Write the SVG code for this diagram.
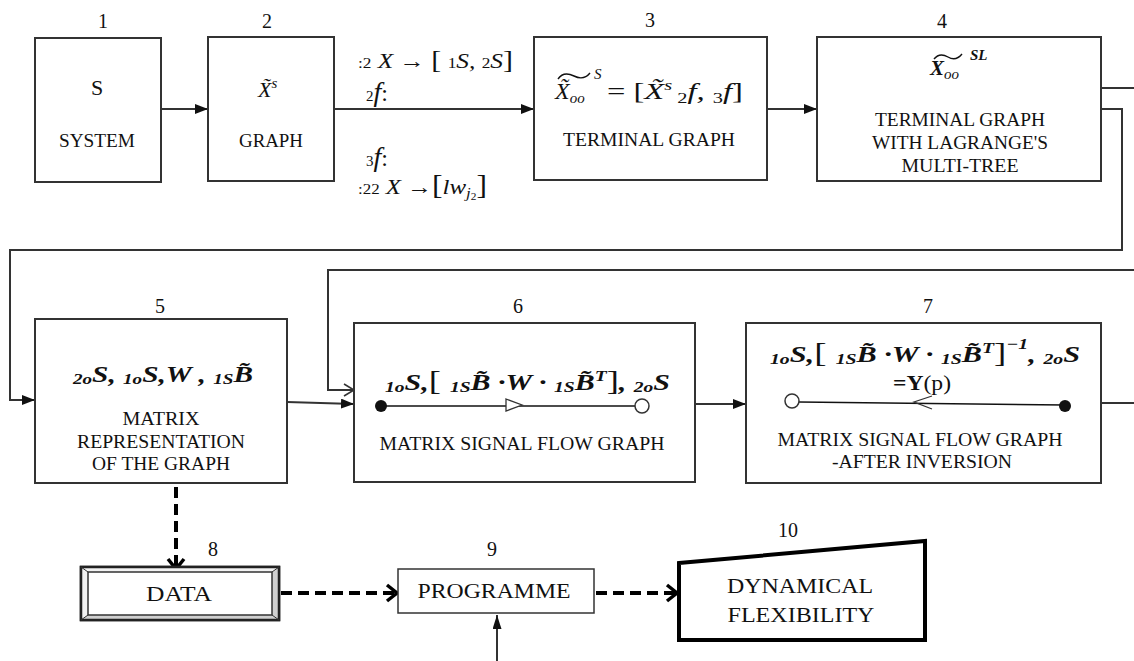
<svg xmlns="http://www.w3.org/2000/svg" width="1134" height="661" viewBox="0 0 1134 661">
<style>
.box{fill:#fff;stroke:#333;stroke-width:2}
.ln{fill:none;stroke:#333;stroke-width:2}
.acc{fill:none;stroke:#111;stroke-width:1.4}
.dash{fill:none;stroke:#000;stroke-width:4;stroke-dasharray:11 6}
.num{font-family:"Liberation Serif",serif;font-size:20px;text-anchor:middle;fill:#111}
.t{font-family:"Liberation Serif",serif;font-size:19px;text-anchor:middle;fill:#111}
.big{font-family:"Liberation Serif",serif;font-size:22px;text-anchor:middle;fill:#111}
.m{font-family:"Liberation Serif",serif;font-style:italic;fill:#111}
.mb{font-family:"Liberation Serif",serif;font-style:italic;font-weight:bold;fill:#111}
.s{font-size:15px}
.r{font-style:normal;font-weight:normal}
</style>
<defs>
<marker id="arr" markerWidth="13" markerHeight="10" refX="13" refY="5" orient="auto" markerUnits="userSpaceOnUse"><path d="M0,0 L13,5 L0,10 z" fill="#111"/></marker>
<marker id="arrThin" markerWidth="14" markerHeight="9" refX="14" refY="4.5" orient="auto" markerUnits="userSpaceOnUse"><path d="M0,0 L14,4.5 L0,9 z" fill="#111"/></marker>
<marker id="chev" markerWidth="14" markerHeight="14" refX="12" refY="7" orient="auto" markerUnits="userSpaceOnUse" overflow="visible"><path d="M2,1 L12,7 L2,13" fill="none" stroke="#333" stroke-width="1.6"/></marker>
<marker id="chevB" markerWidth="16" markerHeight="20" refX="13" refY="10" orient="auto" markerUnits="userSpaceOnUse" overflow="visible"><path d="M3,2 L13,10 L3,18" fill="none" stroke="#000" stroke-width="3.5"/></marker>
</defs>

<g id="connectors">
<line class="ln" x1="161" y1="109" x2="208" y2="109" marker-end="url(#arr)"/>
<line class="ln" x1="334" y1="109" x2="534" y2="109" marker-end="url(#arr)"/>
<line class="ln" x1="767" y1="109" x2="817" y2="109" marker-end="url(#arr)"/>
<line class="ln" x1="1101" y1="88" x2="1134" y2="88"/>
<polyline class="ln" points="1101,109 1122,109 1122,250 10,250 10,400 35,400" marker-end="url(#arr)"/>
<polyline class="ln" points="1134,270 328,270 328,390 354,390" marker-end="url(#chev)"/>
<line class="ln" x1="287" y1="402" x2="354" y2="404" marker-end="url(#arr)"/>
<line class="ln" x1="695" y1="404" x2="746" y2="404" marker-end="url(#arr)"/>
<line class="ln" x1="1101" y1="403" x2="1134" y2="403"/>
<line class="dash" x1="176" y1="487" x2="176" y2="569" marker-end="url(#chevB)"/>
<line class="dash" x1="281" y1="593" x2="397" y2="593" marker-end="url(#chevB)"/>
<line class="dash" x1="596" y1="593" x2="677" y2="593" marker-end="url(#chevB)"/>
<line class="ln" x1="497" y1="661" x2="497" y2="615" stroke-width="1.5" marker-end="url(#arrThin)"/>
</g>

<g id="free-labels">
<text class="m" x="358" y="68" font-size="22" textLength="155" lengthAdjust="spacingAndGlyphs"><tspan class="r s">:2</tspan> X → <tspan class="r" font-size="26">[</tspan> <tspan class="r s">1</tspan>S, <tspan class="r s">2</tspan>S<tspan class="r" font-size="26">]</tspan></text>
<text class="m" x="366" y="101" font-size="28"><tspan class="r s">2</tspan>f<tspan class="r" font-size="24">:</tspan></text>
<text class="m" x="366" y="166" font-size="28"><tspan class="r s">3</tspan>f<tspan class="r" font-size="24">:</tspan></text>
<text class="m" x="358" y="194" font-size="22" textLength="129" lengthAdjust="spacingAndGlyphs"><tspan class="r s">:22</tspan> X →<tspan class="r" font-size="28">[</tspan>lw<tspan class="s" dy="4">j</tspan><tspan class="r" font-size="10" dy="2">2</tspan><tspan class="r" font-size="28" dy="-6">]</tspan></text>
</g>

<g id="n1">
<text class="num" x="103" y="28">1</text>
<rect class="box" x="35" y="38" width="126" height="144"/>
<text class="big" x="97" y="95" font-size="23">S</text>
<text class="t" x="97" y="147" textLength="76" lengthAdjust="spacingAndGlyphs">SYSTEM</text>
</g>

<g id="n2">
<text class="num" x="267" y="28">2</text>
<rect class="box" x="208" y="37" width="126" height="144"/>
<text class="m" x="258" y="97" font-size="22">X̃<tspan class="s" dy="-9">s</tspan></text>
<text class="t" x="271" y="147" textLength="64" lengthAdjust="spacingAndGlyphs">GRAPH</text>
</g>

<g id="n3">
<text class="num" x="650" y="27">3</text>
<rect class="box" x="534" y="37" width="233" height="143"/>
<text class="m" x="555" y="99" font-size="24">X̃<tspan class="s" dy="4">oo</tspan></text>
<path class="acc" d="M558,79 C562,73 568,73 574,76 C580,79 586,78 590,73"/>
<text class="m s" x="594" y="79">S</text>
<text class="m" x="607" y="99" font-size="24" textLength="136" lengthAdjust="spacingAndGlyphs"><tspan class="r">= [</tspan>X̃<tspan class="s" dy="-9">s</tspan><tspan class="s r" dy="13"> 2</tspan><tspan dy="-4">f, </tspan><tspan class="s r" dy="4">3</tspan><tspan dy="-4">f</tspan><tspan class="r">]</tspan></text>
<text class="t" x="649" y="146" textLength="172" lengthAdjust="spacingAndGlyphs">TERMINAL GRAPH</text>
</g>

<g id="n4">
<text class="num" x="942" y="28">4</text>
<rect class="box" x="817" y="37" width="284" height="144"/>
<text class="mb" x="930" y="75" font-size="21">X<tspan class="s" font-weight="normal" dy="4">oo</tspan></text>
<path class="acc" d="M934,59 C938,54 943,54 948,57 C953,60 958,59 962,54"/>
<text class="mb s" x="970" y="60">SL</text>
<text class="t" x="960" y="126" textLength="170" lengthAdjust="spacingAndGlyphs">TERMINAL GRAPH</text>
<text class="t" x="960" y="149" textLength="176" lengthAdjust="spacingAndGlyphs">WITH LAGRANGE'S</text>
<text class="t" x="960" y="172" textLength="117" lengthAdjust="spacingAndGlyphs">MULTI-TREE</text>
</g>

<g id="n5">
<text class="num" x="160" y="313">5</text>
<rect class="box" x="35" y="319" width="252" height="164"/>
<text class="mb" x="73" y="382" font-size="23" textLength="180" lengthAdjust="spacingAndGlyphs"><tspan class="s" dy="2">2</tspan><tspan class="s">o</tspan><tspan dy="-2">S, </tspan><tspan class="s" dy="2">1</tspan><tspan class="s">o</tspan><tspan dy="-2">S,W , </tspan><tspan class="s" dy="2">1S</tspan><tspan dy="-2">B̃</tspan></text>
<text class="t" x="161" y="425" textLength="77" lengthAdjust="spacingAndGlyphs">MATRIX</text>
<text class="t" x="161" y="448" textLength="168" lengthAdjust="spacingAndGlyphs">REPRESENTATION</text>
<text class="t" x="161" y="470" textLength="138" lengthAdjust="spacingAndGlyphs">OF THE GRAPH</text>
</g>

<g id="n6">
<text class="num" x="518" y="313">6</text>
<rect class="box" x="354" y="323" width="341" height="159"/>
<text class="mb" x="385" y="390" font-size="23" textLength="285" lengthAdjust="spacingAndGlyphs"><tspan class="s" dy="2">1</tspan><tspan class="s">o</tspan><tspan dy="-2">S,</tspan><tspan class="r" font-size="28">[ </tspan><tspan class="s" dy="2">1S</tspan><tspan dy="-2">B̃ ·W  ·  </tspan><tspan class="s" dy="2">1S</tspan><tspan dy="-2">B̃</tspan><tspan class="s" dy="-9">T</tspan><tspan class="r" font-size="28" dy="9">]</tspan>, <tspan class="s" dy="2">2</tspan><tspan class="s">o</tspan><tspan dy="-2">S</tspan></text>
<line x1="381" y1="406" x2="635" y2="406" stroke="#111" stroke-width="1.5"/>
<circle cx="381" cy="406" r="6" fill="#111"/>
<circle cx="642" cy="406" r="7" fill="#fff" stroke="#333" stroke-width="1.5"/>
<path d="M506,399 L522,405 L506,411 z" fill="#fff" stroke="#333" stroke-width="1.3"/>
<text class="t" x="522" y="450" textLength="285" lengthAdjust="spacingAndGlyphs">MATRIX SIGNAL FLOW GRAPH</text>
</g>

<g id="n7">
<text class="num" x="928" y="313">7</text>
<rect class="box" x="746" y="323" width="355" height="160"/>
<text class="mb" x="770" y="362" font-size="23" textLength="310" lengthAdjust="spacingAndGlyphs"><tspan class="s" dy="2">1</tspan><tspan class="s">o</tspan><tspan dy="-2">S,</tspan><tspan class="r" font-size="28">[ </tspan><tspan class="s" dy="2">1S</tspan><tspan dy="-2">B̃ ·W  ·  </tspan><tspan class="s" dy="2">1S</tspan><tspan dy="-2">B̃</tspan><tspan class="s" dy="-9">T</tspan><tspan class="r" font-size="28" dy="9">]</tspan><tspan class="s" dy="-13">−1</tspan><tspan dy="13">, </tspan><tspan class="s" dy="2">2</tspan><tspan class="s">o</tspan><tspan dy="-2">S</tspan></text>
<text x="893" y="390" font-family="Liberation Serif,serif" font-size="22" fill="#111" textLength="58" lengthAdjust="spacingAndGlyphs"><tspan font-weight="bold">=Y</tspan>(p)</text>
<line x1="799" y1="402" x2="1065" y2="405" stroke="#111" stroke-width="1.5"/>
<circle cx="792" cy="401" r="7" fill="#fff" stroke="#333" stroke-width="1.5"/>
<circle cx="1065" cy="406" r="6" fill="#111"/>
<polyline points="932,396 914,402 932,409" fill="none" stroke="#333" stroke-width="1.3"/>
<text class="t" x="920" y="446" textLength="285" lengthAdjust="spacingAndGlyphs">MATRIX SIGNAL FLOW GRAPH</text>
<text class="t" x="922" y="468" textLength="180" lengthAdjust="spacingAndGlyphs">-AFTER INVERSION</text>
</g>

<g id="n8">
<text class="num" x="213" y="556">8</text>
<rect x="81" y="567" width="198" height="53" fill="#fff" stroke="#222" stroke-width="2.5"/>
<polygon points="81,567 279,567 272,572 88,572" fill="#f2f2f2"/>
<polygon points="81,567 88,572 88,615 81,620" fill="#f2f2f2"/>
<polygon points="279,567 272,572 272,615 279,620" fill="#d0d0d0"/>
<polygon points="81,620 88,615 272,615 279,620" fill="#d0d0d0"/>
<rect x="81" y="567" width="198" height="53" fill="none" stroke="#222" stroke-width="2.5"/>
<rect x="88" y="572" width="184" height="43" fill="#fff" stroke="#333" stroke-width="1.5"/>
<path d="M81,567 L88,572 M279,567 L272,572 M81,620 L88,615 M279,620 L272,615" stroke="#333" stroke-width="1"/>
<text class="big" x="179" y="601" font-size="21" textLength="66" lengthAdjust="spacingAndGlyphs">DATA</text>
</g>

<g id="n9">
<text class="num" x="492" y="556">9</text>
<rect x="398" y="569" width="196" height="44" fill="#fff" stroke="#333" stroke-width="1.5"/>
<text class="big" x="494" y="598" font-size="21" textLength="153" lengthAdjust="spacingAndGlyphs">PROGRAMME</text>
</g>

<g id="n10">
<text class="num" x="788" y="537">10</text>
<polygon points="679,563 925,541 925,640 679,640" fill="#fff" stroke="#000" stroke-width="4"/>
<text class="big" x="800" y="593" font-size="23" textLength="146" lengthAdjust="spacingAndGlyphs">DYNAMICAL</text>
<text class="big" x="801" y="622" font-size="23" textLength="147" lengthAdjust="spacingAndGlyphs">FLEXIBILITY</text>
</g>
</svg>
